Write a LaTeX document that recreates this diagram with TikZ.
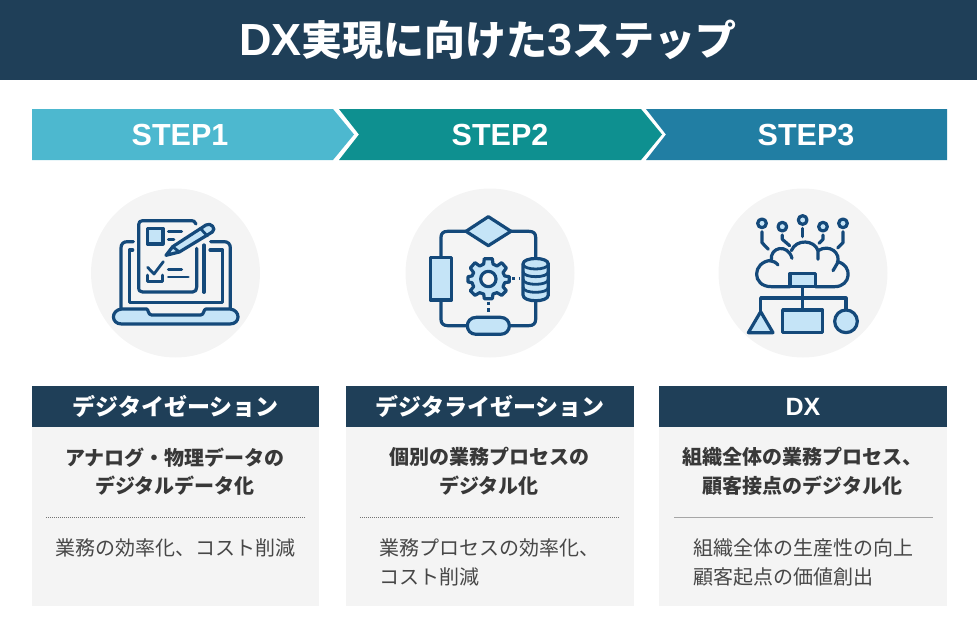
\documentclass[tikz,border=0pt]{standalone}
\usepackage{fontspec}
\setmainfont{Noto Sans CJK JP}
\newfontfamily\latinfont{Liberation Sans}
\usetikzlibrary{positioning}
\definecolor{navy}{HTML}{1F3F58}
\definecolor{stepa}{HTML}{4DB8CF}
\definecolor{stepb}{HTML}{0E9090}
\definecolor{stepc}{HTML}{217EA3}
\definecolor{panel}{HTML}{F4F4F4}
\definecolor{icon}{HTML}{14497A}
\definecolor{iconfill}{HTML}{C5E4F7}
\tikzset{
  bar/.style={fill=navy, draw=none, text=white, inner sep=0pt, font=\bfseries\fontsize{23}{23}\selectfont},
  stepname/.style={text=white, inner sep=0pt, font=\latinfont\bfseries\fontsize{30.5}{30.5}\selectfont},
  panelbox/.style={fill=panel, draw=none, inner sep=0pt},
  lead/.style={align=center, inner sep=0pt, text=black!78, font=\bfseries\fontsize{20}{28.5}\selectfont},
  body/.style={align=left, inner sep=0pt, text=black!72, font=\fontsize{20}{29}\selectfont},
  ico/.style={draw=icon, line width=3.2pt, line cap=round, line join=round},
  icothin/.style={draw=icon, line width=2.8pt, line cap=round, line join=round},
  icofill/.style={ico, fill=iconfill},
  zoomed/.style={x=0.33333pt, y=-0.33333pt}
}
\begin{document}
\begin{tikzpicture}[x=1pt, y=-1pt]
  \useasboundingbox (0,0) rectangle (977,626);

  % Title
  \fill[navy] (0,0) rectangle (977,80);
  \node (title) at (488,40) [text=white, inner sep=0pt, font=\bfseries\fontsize{41}{41}\selectfont] {{\latinfont\fontsize{45}{45}\selectfont DX}実現に向けた{\latinfont\fontsize{45}{45}\selectfont 3}ステップ};

  % Arrows
  \fill[stepa] (32,109) -- (333,109) -- (354,134.5) -- (333,160) -- (32,160) -- cycle;
  \fill[stepb] (339,109) -- (641,109) -- (662,134.5) -- (641,160) -- (339,160) -- (359,134.5) -- cycle;
  \fill[stepc] (646,109) -- (947,109) -- (947,160) -- (646,160) -- (666,134.5) -- cycle;
  \node (stepA) at (180,135) [stepname] {STEP1};
  \node (stepB) at (500,135) [stepname] {STEP2};
  \node (stepC) at (806,135) [stepname] {STEP3};

  % Circles
  \fill[panel] (175.5,273) circle (84.5);
  \fill[panel] (490,273) circle (84.5);
  \fill[panel] (803,273) circle (84.5);

  % Panels
  \node (panelA) at (175.5,516.5) [panelbox, minimum width=287pt, minimum height=179pt] {};
  \node (panelB) at (490,516.5) [panelbox, minimum width=288pt, minimum height=179pt] {};
  \node (panelC) at (803,516.5) [panelbox, minimum width=288pt, minimum height=179pt] {};
  \node (headA) at (175.5,406.5) [bar, minimum width=287pt, minimum height=41pt] {デジタイゼーション};
  \node (headB) at (490,406.5) [bar, minimum width=288pt, minimum height=41pt] {デジタライゼーション};
  \node (headC) at (803,406.5) [bar, minimum width=288pt, minimum height=41pt] {{\latinfont\fontsize{25}{25}\selectfont DX}};

  \node (leadA) at (175,471.5) [lead] {アナログ・物理データの\\デジタルデータ化};
  \node (leadB) at (489,471.5) [lead] {個別の業務プロセスの\\デジタル化};
  \node (leadC) at (802.5,471.5) [lead] {組織全体の業務プロセス、\\顧客接点のデジタル化};

  \draw[black!55, line width=0.7pt, dash pattern=on 1pt off 1pt] (46,517) -- (305,517);
  \draw[black!55, line width=0.7pt, dash pattern=on 1pt off 1pt] (360,517) -- (619,517);
  \draw[black!35, line width=1pt] (674,517) -- (933,517);

  \node (bodyA) at (175.5,548) [body] {業務の効率化、コスト削減};
  \node (bodyB) at (489,562) [body] {業務プロセスの効率化、\\コスト削減};
  \node (bodyC) at (803,562) [body] {組織全体の生産性の向上\\顧客起点の価値創出};

  % Laptop icon
  \begin{scope}[shift={(80,180)}, zoomed]
    \draw[ico] (160,185) -- (142,185) .. controls (130,185) and (123,192) .. (123,204) -- (123,385);
    \draw[ico] (392,185) -- (432,185) .. controls (444,185) and (451,192) .. (451,204) -- (451,385);
    \draw[ico] (158,210) -- (148,210) -- (148,367) -- (428,367) -- (428,210) -- (390,210);
    \draw[ico] (372,195) -- (372,337);
    \draw[icofill] (125,387) -- (200,387) .. controls (205,387) and (204,405) .. (215,405) -- (362,405) .. controls (373,405) and (370,387) .. (378,387) -- (450,387) .. controls (482,390) and (482,432) .. (450,432) -- (125,432) .. controls (92,432) and (92,390) .. (125,387) -- cycle;
    \draw[ico] (348,132) .. controls (345,124) and (340,122) .. (335,122) -- (188,122) .. controls (180,122) and (176,126) .. (176,134) -- (176,322) .. controls (176,332) and (180,336) .. (188,336) -- (338,336) .. controls (346,336) and (350,330) .. (350,322) -- (350,205);
    \draw[icofill] (202,145) rectangle (249,192);
    \draw[icothin] (265,155) -- (305,155) (265,178) -- (282,178);
    \draw[icothin] (265,268) -- (305,268) (265,291) -- (325,291);
    \draw[icothin] (203,262) -- (222,282) -- (250,245);
    \draw[icothin] (203,285) -- (203,304) -- (248,304) -- (248,285);
    \draw[icofill] (258,226) -- (278,200) -- (378,135) .. controls (392,126) and (410,146) .. (397,156) -- (298,216) -- cycle;
    \draw[icothin] (278,200) -- (298,216) (362,146) -- (382,168);
  \end{scope}

  % Process icon
  \begin{scope}[shift={(395,180)}, zoomed]
    \draw[ico] (215,154) -- (158,154) .. controls (145,154) and (138,160) .. (138,172) -- (138,232);
    \draw[ico] (345,154) -- (402,154) .. controls (415,154) and (422,160) .. (422,172) -- (422,236);
    \draw[ico] (138,360) -- (138,418) .. controls (138,430) and (145,437) .. (158,437) -- (218,437);
    \draw[ico] (422,360) -- (422,418) .. controls (422,430) and (415,437) .. (402,437) -- (342,437);
    \draw[icofill] (280,110) -- (348,154) -- (280,197) -- (213,154) -- cycle;
    \draw[icofill] (106,232) rectangle (170,360);
    \draw[icofill] (244,412) -- (316,412) .. controls (352,412) and (352,463) .. (316,463) -- (244,463) .. controls (208,463) and (208,412) .. (244,412) -- cycle;
    % database
    \draw[icofill] (384,252) .. controls (384,230) and (460,230) .. (460,252) -- (460,345) .. controls (460,368) and (384,368) .. (384,345) -- cycle;
    \draw[icothin] (384,252) .. controls (384,272) and (460,272) .. (460,252);
    \draw[icothin] (384,275) .. controls (384,295) and (460,295) .. (460,275);
    \draw[icothin] (384,298) .. controls (384,318) and (460,318) .. (460,298);
    \draw[icothin] (384,322) .. controls (384,342) and (460,342) .. (460,322);
    % gear
    \draw[icofill] (268,236) -- (292,236) -- (294,252) -- (306,258) -- (320,248) -- (334,264) -- (324,278) -- (329,288) -- (343,290) -- (343,306) -- (329,308) -- (324,320) -- (334,332) -- (320,346) -- (306,338) -- (294,342) -- (292,356) -- (268,356) -- (266,342) -- (254,338) -- (240,346) -- (226,332) -- (236,320) -- (231,308) -- (219,306) -- (219,290) -- (231,288) -- (236,278) -- (226,264) -- (240,248) -- (254,258) -- (266,252) -- cycle;
    \draw[ico, fill=panel] (280,297) circle (23);
    % dotted links
    \draw[icon, line width=3.2pt, dash pattern=on 3.2pt off 3.6pt] (351,296) -- (376,296);
    \draw[icon, line width=3.2pt, dash pattern=on 3.2pt off 3.6pt] (280,365) -- (280,404);
  \end{scope}

  % Cloud icon
  \begin{scope}[shift={(708,180)}, zoomed]
    % nodes on top
    \draw[ico, fill=iconfill] (162,130) circle (13);
    \draw[ico, fill=iconfill] (223,140) circle (13);
    \draw[ico, fill=iconfill] (284,120) circle (13);
    \draw[ico, fill=iconfill] (345,140) circle (13);
    \draw[ico, fill=iconfill] (405,130) circle (13);
    \draw[ico] (162,155) -- (162,188) -- (181,208);
    \draw[ico] (223,165) -- (223,178) -- (245,197);
    \draw[ico] (284,145) -- (284,170);
    \draw[ico] (345,165) -- (345,178) -- (333,190);
    \draw[ico] (405,155) -- (405,188) -- (389,204);
    % cloud outline
    \draw[ico] (246,320) -- (190,320) .. controls (130,320) and (132,245) .. (190,241) .. controls (185,200) and (240,190) .. (252,235);
    \draw[ico] (250,212) .. controls (265,175) and (320,180) .. (330,212) -- (330,238);
    \draw[ico] (330,212) .. controls (365,190) and (400,220) .. (388,250) -- (375,272);
    \draw[ico] (388,245) .. controls (435,255) and (430,320) .. (380,320) -- (322,320);
    \draw[ico] (185,242) .. controls (195,242) and (205,248) .. (210,255);
    \draw[icofill] (246,280) rectangle (322,320);
    % tree
    \draw[ico] (284,320) -- (284,390);
    \draw[ico] (158,392) -- (158,354) -- (414,354) -- (414,392);
    \draw[icofill] (158,395) -- (195,458) -- (121,458) -- cycle;
    \draw[icofill] (224,390) rectangle (344,458);
    \draw[icofill] (414,424) circle (34);
  \end{scope}
\end{tikzpicture}
\end{document}
